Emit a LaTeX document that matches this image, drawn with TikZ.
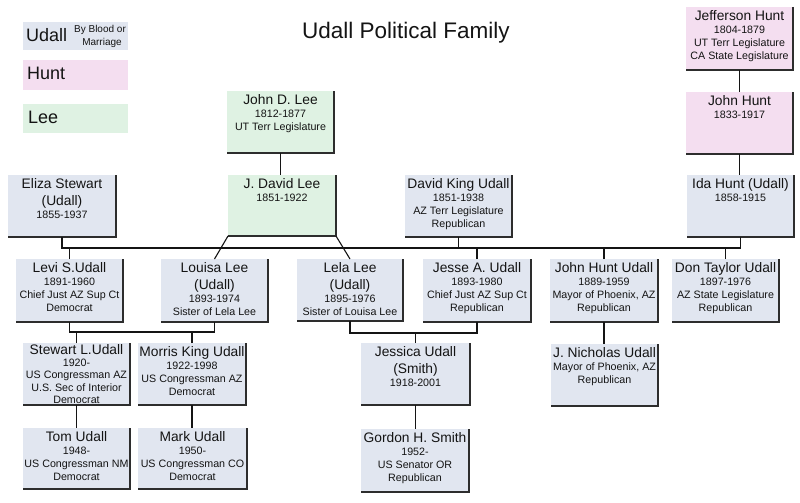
\documentclass[tikz,border=0pt]{standalone}
\usepackage{fontspec}
\setmainfont{Liberation Sans}
\definecolor{ublue}{RGB}{225,230,240}
\definecolor{hpink}{RGB}{244,222,240}
\definecolor{lgreen}{RGB}{223,242,227}
\definecolor{edgec}{RGB}{45,45,45}
\definecolor{ink}{RGB}{20,20,20}
\newdimen\nmh \nmh=13.5pt
\newdimen\smp \smp=13pt
\newcommand\nm[1]{{\fontsize{13.8}{16}\selectfont\rule[-3.5pt]{0pt}{\dimexpr\nmh+3.5pt\relax}#1}}
\newcommand\sm[1]{{\fontsize{10.7}{13}\selectfont\rule[-3.5pt]{0pt}{\smp}#1}}
\newcommand\boxtext[3]{\vbox to #2{\hsize=#1\offinterlineskip\tabskip=0pt plus 1fil\halign to\hsize{\hfil##\hfil\cr#3}\vfil}}
\newcommand\famnode[7]{%
  \node[#1] (#2) at (#3,#4) {\boxtext{#5pt}{#6pt}{#7}};
  \draw[edgeline] (#2.north east) -- (#2.south east) -- (#2.south west);}
\tikzset{
  fam/.style={inner sep=0pt, outer sep=0pt, anchor=north west, text=ink},
  ub/.style={fam, fill=ublue},
  hp/.style={fam, fill=hpink},
  lg/.style={fam, fill=lgreen},
  edgeline/.style={line width=1.2pt, draw=edgec},
  link/.style={line width=1.6pt, draw=ink},
  diag/.style={line width=1.1pt, draw=ink},
  legbox/.style={inner sep=0pt, outer sep=0pt, anchor=north west, minimum width=105pt},
  legtxt/.style={inner sep=0pt, anchor=base west, text=ink, font=\fontsize{18}{20}\selectfont},
  legsmall/.style={inner sep=0pt, anchor=base, text=ink, font=\fontsize{10}{12}\selectfont}
}
\begin{document}
\begin{tikzpicture}[x=1pt,y=-1pt]
\useasboundingbox[fill=white] (0,0) rectangle (800,503);

% legend
\node[legbox, fill=ublue, minimum height=28pt] (legu) at (23,22) {};
\node[legtxt] (legutext) at (26,42) {Udall};
\node[legsmall] (legbb) at (100,33) {By Blood or};
\node[legsmall] (legmar) at (102,46) {Marriage};
\node[legbox, fill=hpink, minimum height=30pt] (legh) at (23,60) {};
\node[legtxt] (leghtext) at (27,79.5) {Hunt};
\node[legbox, fill=lgreen, minimum height=29pt] (legl) at (23,104) {};
\node[legtxt] (legltext) at (28,123) {Lee};

% title
\node[inner sep=0pt, anchor=base, text=ink, font=\fontsize{22.5}{26}\selectfont] (title) at (406,39) {Udall Political Family};

% generation 1
\famnode{lg}{jdlee}{227}{91}{107}{62}{\nm{John D. Lee}\cr\sm{1812-1877}\cr\sm{UT Terr Legislature}\cr}
\famnode{hp}{jeff}{686}{7}{107}{63}{\nm{Jefferson Hunt}\cr\sm{1804-1879}\cr\sm{UT Terr Legislature}\cr\sm{CA State Legislature}\cr}
\famnode{hp}{johnhunt}{686}{92}{107}{62}{\nm{John Hunt}\cr\sm{1833-1917}\cr}

% generation 2
\famnode{ub}{eliza}{8}{175}{108}{62}{\nm{Eliza Stewart}\cr\nm{(Udall)}\cr\sm{1855-1937}\cr}
\famnode{lg}{jdavid}{228}{175}{108}{61}{\nm{J. David Lee}\cr\sm{1851-1922}\cr}
\famnode{ub}{dku}{405}{175}{107}{62}{\nm{David King Udall}\cr\sm{1851-1938}\cr\sm{AZ Terr Legislature}\cr\sm{Republican}\cr}
\famnode{ub}{ida}{687}{175}{107}{62}{\nm{Ida Hunt (Udall)}\cr\sm{1858-1915}\cr}

% generation 3
\famnode{ub}{levi}{16}{259}{107}{63}{\nm{Levi S.Udall}\cr\sm{1891-1960}\cr\sm{Chief Just AZ Sup Ct}\cr\sm{Democrat}\cr}
\famnode{ub}{louisa}{161}{259}{107}{63}{\nm{Louisa Lee}\cr\nm{(Udall)}\cr\sm{1893-1974}\cr\sm{Sister of Lela Lee}\cr}
\famnode{ub}{lela}{297}{259}{106}{62}{\nm{Lela Lee}\cr\nm{(Udall)}\cr\sm{1895-1976}\cr\sm{Sister of Louisa Lee}\cr}
\famnode{ub}{jesse}{423}{259}{108}{63}{\nm{Jesse A. Udall}\cr\sm{1893-1980}\cr\sm{Chief Just AZ Sup Ct}\cr\sm{Republican}\cr}
\famnode{ub}{johnhu}{550}{259}{108}{63}{\nm{John Hunt Udall}\cr\sm{1889-1959}\cr\sm{Mayor of Phoenix, AZ}\cr\sm{Republican}\cr}
\famnode{ub}{don}{672}{259}{107}{63}{\nm{Don Taylor Udall}\cr\sm{1897-1976}\cr\sm{AZ State Legislature}\cr\sm{Republican}\cr}

% generation 4
{\smp=12.2pt \nmh=11.5pt
\famnode{ub}{stewart}{23}{343}{107}{62}{\nm{Stewart L.Udall}\cr\sm{1920-}\cr\sm{US Congressman AZ}\cr\sm{U.S. Sec of Interior}\cr\sm{Democrat}\cr}
}
\famnode{ub}{morris}{138}{343}{108}{62}{\nm{Morris King Udall}\cr\sm{1922-1998}\cr\sm{US Congressman AZ}\cr\sm{Democrat}\cr}
\famnode{ub}{jessica}{361}{343}{109}{62}{\nm{Jessica Udall}\cr\nm{(Smith)}\cr\sm{1918-2001}\cr}
\famnode{ub}{nicholas}{551}{344}{107}{62}{\nm{J. Nicholas Udall}\cr\sm{Mayor of Phoenix, AZ}\cr\sm{Republican}\cr}

% generation 5
\famnode{ub}{tom}{23}{428}{107}{61}{\nm{Tom Udall}\cr\sm{1948-}\cr\sm{US Congressman NM}\cr\sm{Democrat}\cr}
\famnode{ub}{mark}{138}{428}{109}{61}{\nm{Mark Udall}\cr\sm{1950-}\cr\sm{US Congressman CO}\cr\sm{Democrat}\cr}
\famnode{ub}{gordon}{361}{429}{108}{63}{\nm{Gordon H. Smith}\cr\sm{1952-}\cr\sm{US Senator OR}\cr\sm{Republican}\cr}

% connectors
\coordinate (m1) at (0,248);
\coordinate (m2) at (0,332);
\coordinate (m3) at (0,333);
\draw[link] (jdlee.south) -- (jdlee.south |- jdavid.north);
\draw[link] (jeff.south) -- (jeff.south |- johnhunt.north);
\draw[link] (johnhunt.south) -- (johnhunt.south |- ida.north);
\draw[link] (eliza.south) |- (ida.south |- m1) -- (ida.south);
\draw[link] (dku.south) -- (dku.south |- m1);
\foreach \c in {levi,jesse,johnhu,don} \draw[link] (\c.north) -- (\c.north |- m1);
\draw[diag] (jdavid.south west) -- (louisa.north);
\draw[diag] (jdavid.south east) -- (lela.north);
\draw[link] (levi.south) |- (louisa.south |- m2) -- (louisa.south);
\draw[link] (stewart.north) -- (stewart.north |- m2);
\draw[link] (morris.north) -- (morris.north |- m2);
\draw[link] (lela.south) |- (jesse.south |- m3) -- (jesse.south);
\draw[link] (jessica.north) -- (jessica.north |- m3);
\draw[link] (johnhu.south) -- (johnhu.south |- nicholas.north);
\draw[link] (stewart.south) -- (stewart.south |- tom.north);
\draw[link] (morris.south) -- (morris.south |- mark.north);
\draw[link] (jessica.south) -- (jessica.south |- gordon.north);
\end{tikzpicture}
\end{document}
